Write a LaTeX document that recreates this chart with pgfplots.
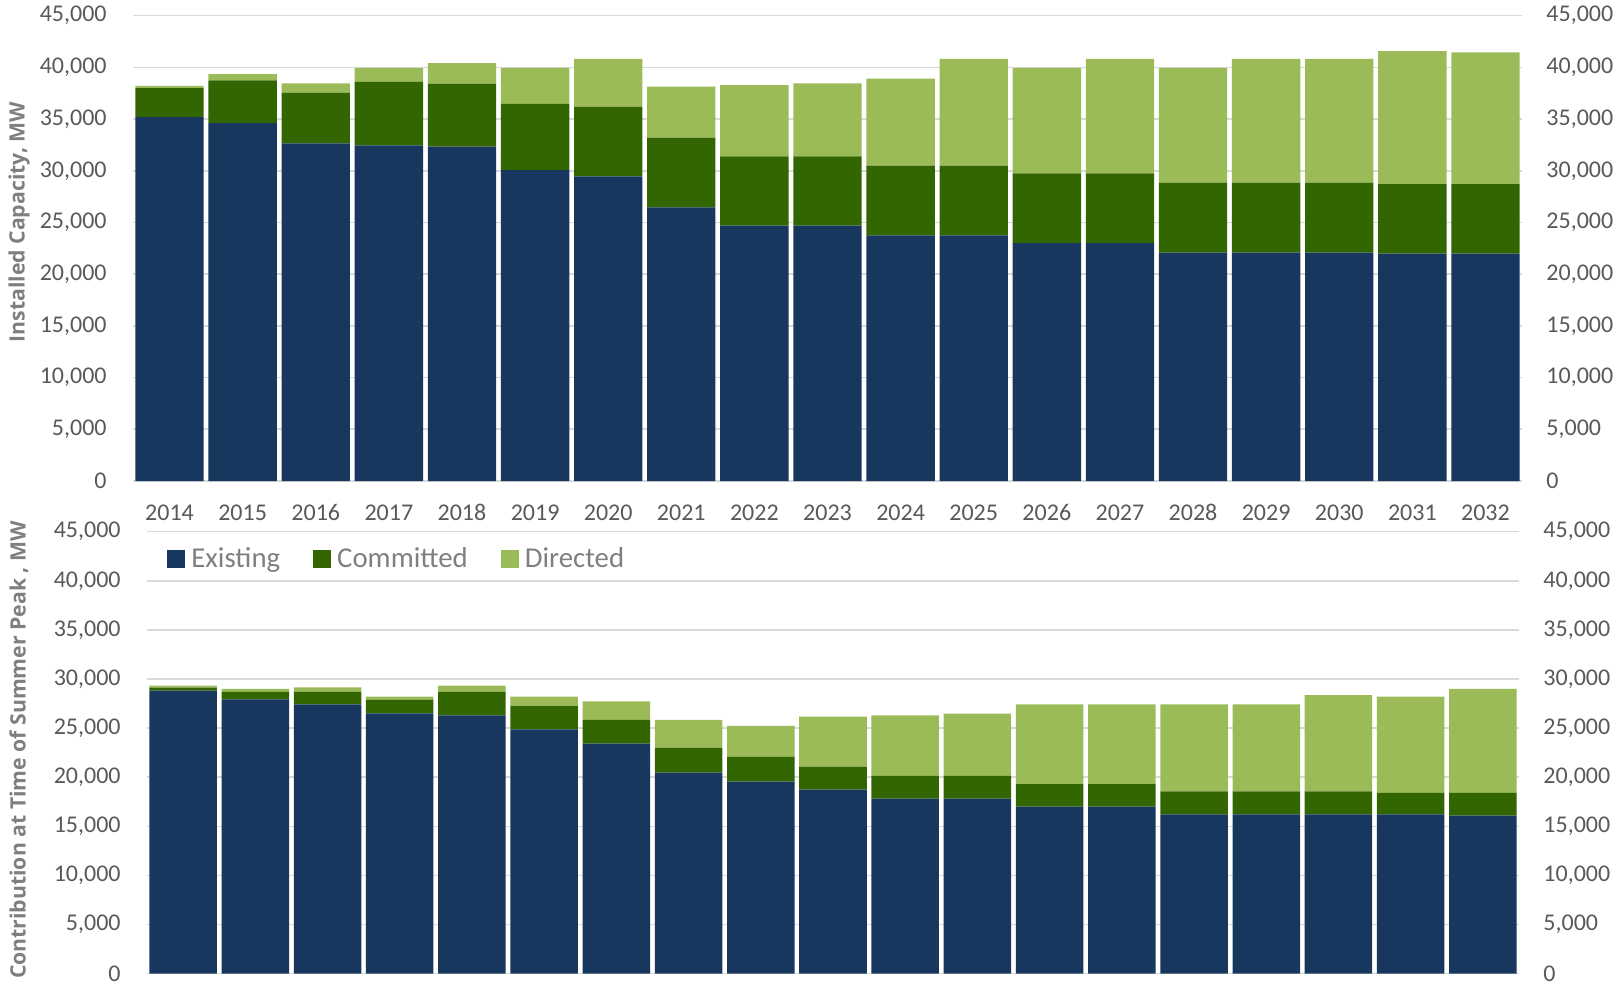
\documentclass[border=0pt]{standalone}
\usepackage{fontspec}
\setmainfont{Carlito}
\newfontfamily\labfont{Open Sans}
\usepackage{pgfplots}
\pgfplotsset{compat=1.18}
\usepackage{pgfplotstable}

\definecolor{existing}{HTML}{17375E}
\definecolor{committed}{HTML}{336600}
\definecolor{directed}{HTML}{9BBB59}
\definecolor{gridgray}{HTML}{D9D9D9}
\definecolor{txtgray}{HTML}{595959}
\definecolor{labgray}{HTML}{7F7F7F}

% installed capacity, MW (stacked increments)
\pgfplotstableread{
year existing committed directed
2014 35200 2800 200
2015 34600 4150 600
2016 32650 4900 900
2017 32450 6150 1350
2018 32330 6090 2000
2019 30070 6410 3480
2020 29460 6730 4640
2021 26460 6740 4930
2022 24690 6700 6900
2023 24690 6700 7060
2024 23750 6740 8410
2025 23750 6740 10340
2026 23010 6740 10210
2027 23010 6740 11080
2028 22080 6770 11110
2029 22080 6770 11980
2030 22080 6770 11980
2031 21980 6740 12860
2032 21980 6740 12730
}\installed

% contribution at time of summer peak, MW
\pgfplotstableread{
year existing committed directed
2014 28820 300 200
2015 27930 750 310
2016 27420 1260 470
2017 26510 1390 300
2018 26300 2380 640
2019 24880 2370 950
2020 23420 2410 1900
2021 20470 2510 2850
2022 19550 2510 3160
2023 18740 2340 5090
2024 17820 2310 6170
2025 17820 2310 6340
2026 17000 2310 8110
2027 17000 2310 8110
2028 16220 2350 8850
2029 16220 2350 8850
2030 16220 2350 9800
2031 16220 2180 9800
2032 16090 2310 10590
}\summer

\pgfplotsset{
  capbase/.style={
    scale only axis,
    xmin=2013.5, xmax=2032.5,
    ymin=0, ymax=45000,
    ytick={0,5000,...,45000},
    scaled y ticks=false,
    axis line style={draw=none},
    major tick length=0pt,
    tick label style={font=\fontsize{12}{14}\selectfont, text=txtgray, inner sep=0pt},
    /pgf/number format/1000 sep={,},
    /pgf/number format/assume math mode=true,
    yticklabel shift=13pt,
  },
  barbase/.style={
    capbase,
    ybar stacked, bar width=0.935,
    ymajorgrids, grid style={gridgray, line width=0.8pt},
  },
}

\begin{document}
\begin{tikzpicture}
\path[use as bounding box] (0,0) rectangle (808.5pt,-495pt);

% top: installed capacity
\begin{axis}[barbase,
    at={(66.5pt,-240.5pt)}, anchor=south west,
    width=694.5pt, height=232.67pt,
    xtick=data,
    x tick label style={/pgf/number format/1000 sep={}, text height=7.6pt, text depth=0pt},
    xticklabel shift=12pt,
]
\addplot[fill=existing, draw=none] table[x=year, y=existing] {\installed};
\addplot[fill=committed, draw=none] table[x=year, y=committed] {\installed};
\addplot[fill=directed, draw=none] table[x=year, y=directed] {\installed};
\end{axis}
\begin{axis}[capbase,
    at={(66.5pt,-240.5pt)}, anchor=south west,
    width=694.5pt, height=232.67pt,
    xtick=\empty, yticklabel pos=right, yticklabel shift=12pt,
]
\end{axis}

% bottom: contribution at summer peak
\begin{axis}[barbase,
    at={(73.5pt,-486.83pt)}, anchor=south west,
    width=686pt, height=221pt,
    xtick=\empty,
    legend columns=3,
    legend style={draw=none, fill=none, at={(0,1)}, anchor=north west,
        xshift=7pt, yshift=-4.25pt,
        font=\fontsize{14.4}{16}\selectfont, text=labgray,
        /tikz/every even column/.append style={column sep=13.5pt},
        nodes={inner xsep=3pt, inner ysep=1.5pt}},
    legend image code/.code={\fill[#1] (0pt,-4.6pt) rectangle (9pt,4.6pt);},
]
\addplot[fill=existing, draw=none] table[x=year, y=existing] {\summer};
\addlegendentry{Existing}
\addplot[fill=committed, draw=none] table[x=year, y=committed] {\summer};
\addlegendentry{Committed}
\addplot[fill=directed, draw=none] table[x=year, y=directed] {\summer};
\addlegendentry{Directed}
\end{axis}
\begin{axis}[capbase,
    at={(73.5pt,-486.83pt)}, anchor=south west,
    width=686pt, height=221pt,
    xtick=\empty, yticklabel pos=right, yticklabel shift=12pt,
]
\end{axis}

\node[rotate=90, font=\labfont\bfseries\fontsize{10.6}{12}\selectfont, text=labgray]
  at (9.5pt,-111pt) {Installed Capacity, MW};
\node[rotate=90, font=\labfont\bfseries\fontsize{10.6}{12}\selectfont, text=labgray]
  at (9.5pt,-375pt) {Contribution at Time of Summer Peak , MW};
\end{tikzpicture}
\end{document}
